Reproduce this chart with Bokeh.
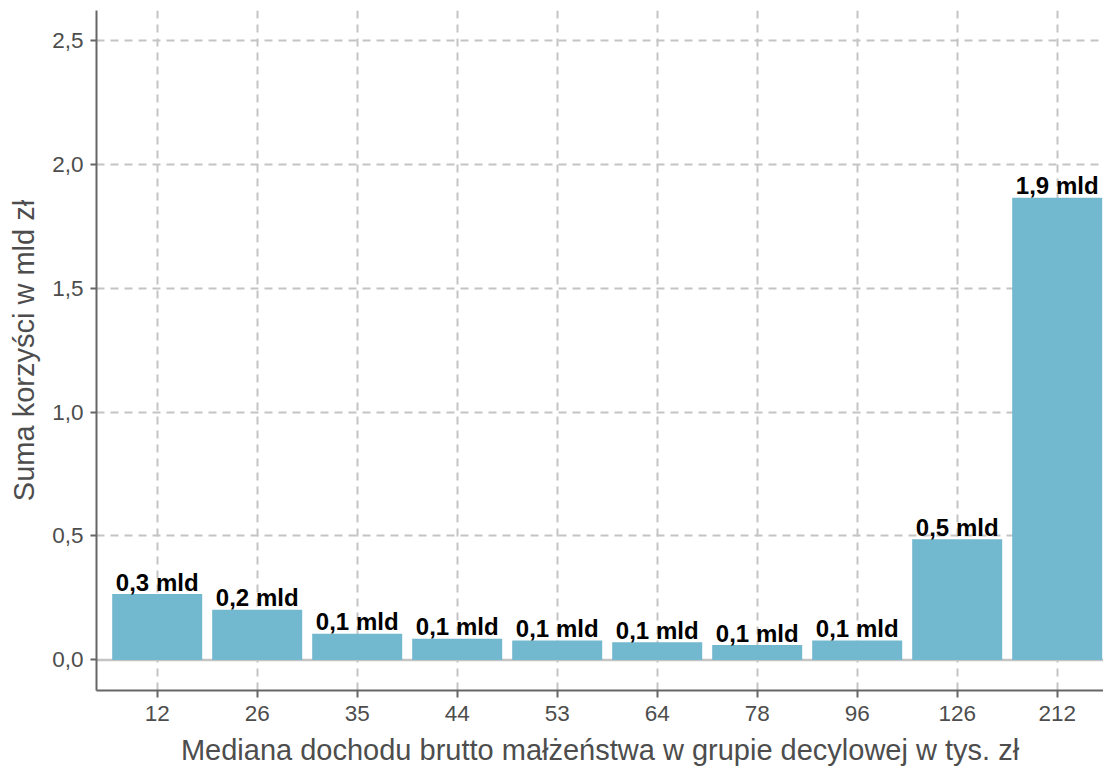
from bokeh.plotting import figure
from bokeh.models import Range1d, FixedTicker, Span, ColumnDataSource, LinearAxis, Grid
from bokeh.core.properties import value
from bokeh.embed import file_html
from bokeh.resources import INLINE

categories = ["12", "26", "35", "44", "53", "64", "78", "96", "126", "212"]
values = [0.266, 0.203, 0.106, 0.086, 0.079, 0.072, 0.060, 0.079, 0.487, 1.864]
y_ticks = [0.0, 0.5, 1.0, 1.5, 2.0, 2.5]

FONT = "Liberation Sans"
x = list(range(len(categories)))
labels = [f"{v:.1f}".replace(".", ",") + " mld" for v in values]

p = figure(width=1103, height=768, output_backend="svg", toolbar_location=None,
           x_range=Range1d(-0.607, 9.463), y_range=Range1d(-0.123, 2.619),
           x_axis_location=None, y_axis_location=None,
           min_border_left=96, min_border_right=0, min_border_top=10, min_border_bottom=78)
p.outline_line_color = None
p.background_fill_color = "white"
p.border_fill_color = "white"

xaxis = LinearAxis(ticker=FixedTicker(ticks=x),
                   major_label_overrides={i: c for i, c in zip(x, categories)})
yaxis = LinearAxis(ticker=FixedTicker(ticks=y_ticks),
                   major_label_overrides={t: f"{t:.1f}".replace(".", ",") for t in y_ticks})
p.add_layout(xaxis, "below")
p.add_layout(yaxis, "left")

for ax in (xaxis, yaxis):
    ax.axis_line_color = "#666666"
    ax.axis_line_width = 2
    ax.major_tick_line_color = "#666666"
    ax.major_tick_line_width = 2
    ax.minor_tick_line_color = None
    ax.major_tick_in = 0
    ax.major_label_text_font = FONT
    ax.major_label_text_font_size = "22.5px"
    ax.major_label_text_color = "#4d4d4d"
    ax.axis_label_text_font = FONT
    ax.axis_label_text_font_size = "29px"
    ax.axis_label_text_font_style = "normal"
    ax.axis_label_text_color = "#4d4d4d"

xaxis.major_tick_out = 7
xaxis.major_label_standoff = 8
xaxis.axis_label = "Mediana dochodu brutto małżeństwa w grupie decylowej w tys. zł"
xaxis.axis_label_standoff = 10
yaxis.major_tick_out = 6
yaxis.major_label_standoff = 7
yaxis.axis_label = "Suma korzyści w mld zł"
yaxis.axis_label_standoff = 9

p.xgrid.visible = False
p.ygrid.visible = False
gx = Grid(dimension=0, ticker=FixedTicker(ticks=x), grid_line_color="#c4c4c4",
          grid_line_width=2, grid_line_dash="8 6")
gy = Grid(dimension=1, ticker=FixedTicker(ticks=y_ticks[1:]), grid_line_color="#c4c4c4",
          grid_line_width=2, grid_line_dash="8 6")
p.add_layout(gx)
p.add_layout(gy)

src = ColumnDataSource(dict(x=x, top=values, label=labels))
p.vbar(x="x", top="top", bottom=0, width=0.9, source=src,
       fill_color="#72b8ce", line_color=None)
p.add_layout(Span(location=0, dimension="width", line_color="#c4c4c4", line_width=2.5, level="underlay"))

p.text(x="x", y="top", text="label", source=src, text_font=value(FONT),
       text_font_size="24px", text_font_style="bold", text_color="black",
       text_align="center", text_baseline="alphabetic", y_offset=-12)

open("out.html", "w").write(file_html(p, INLINE))
